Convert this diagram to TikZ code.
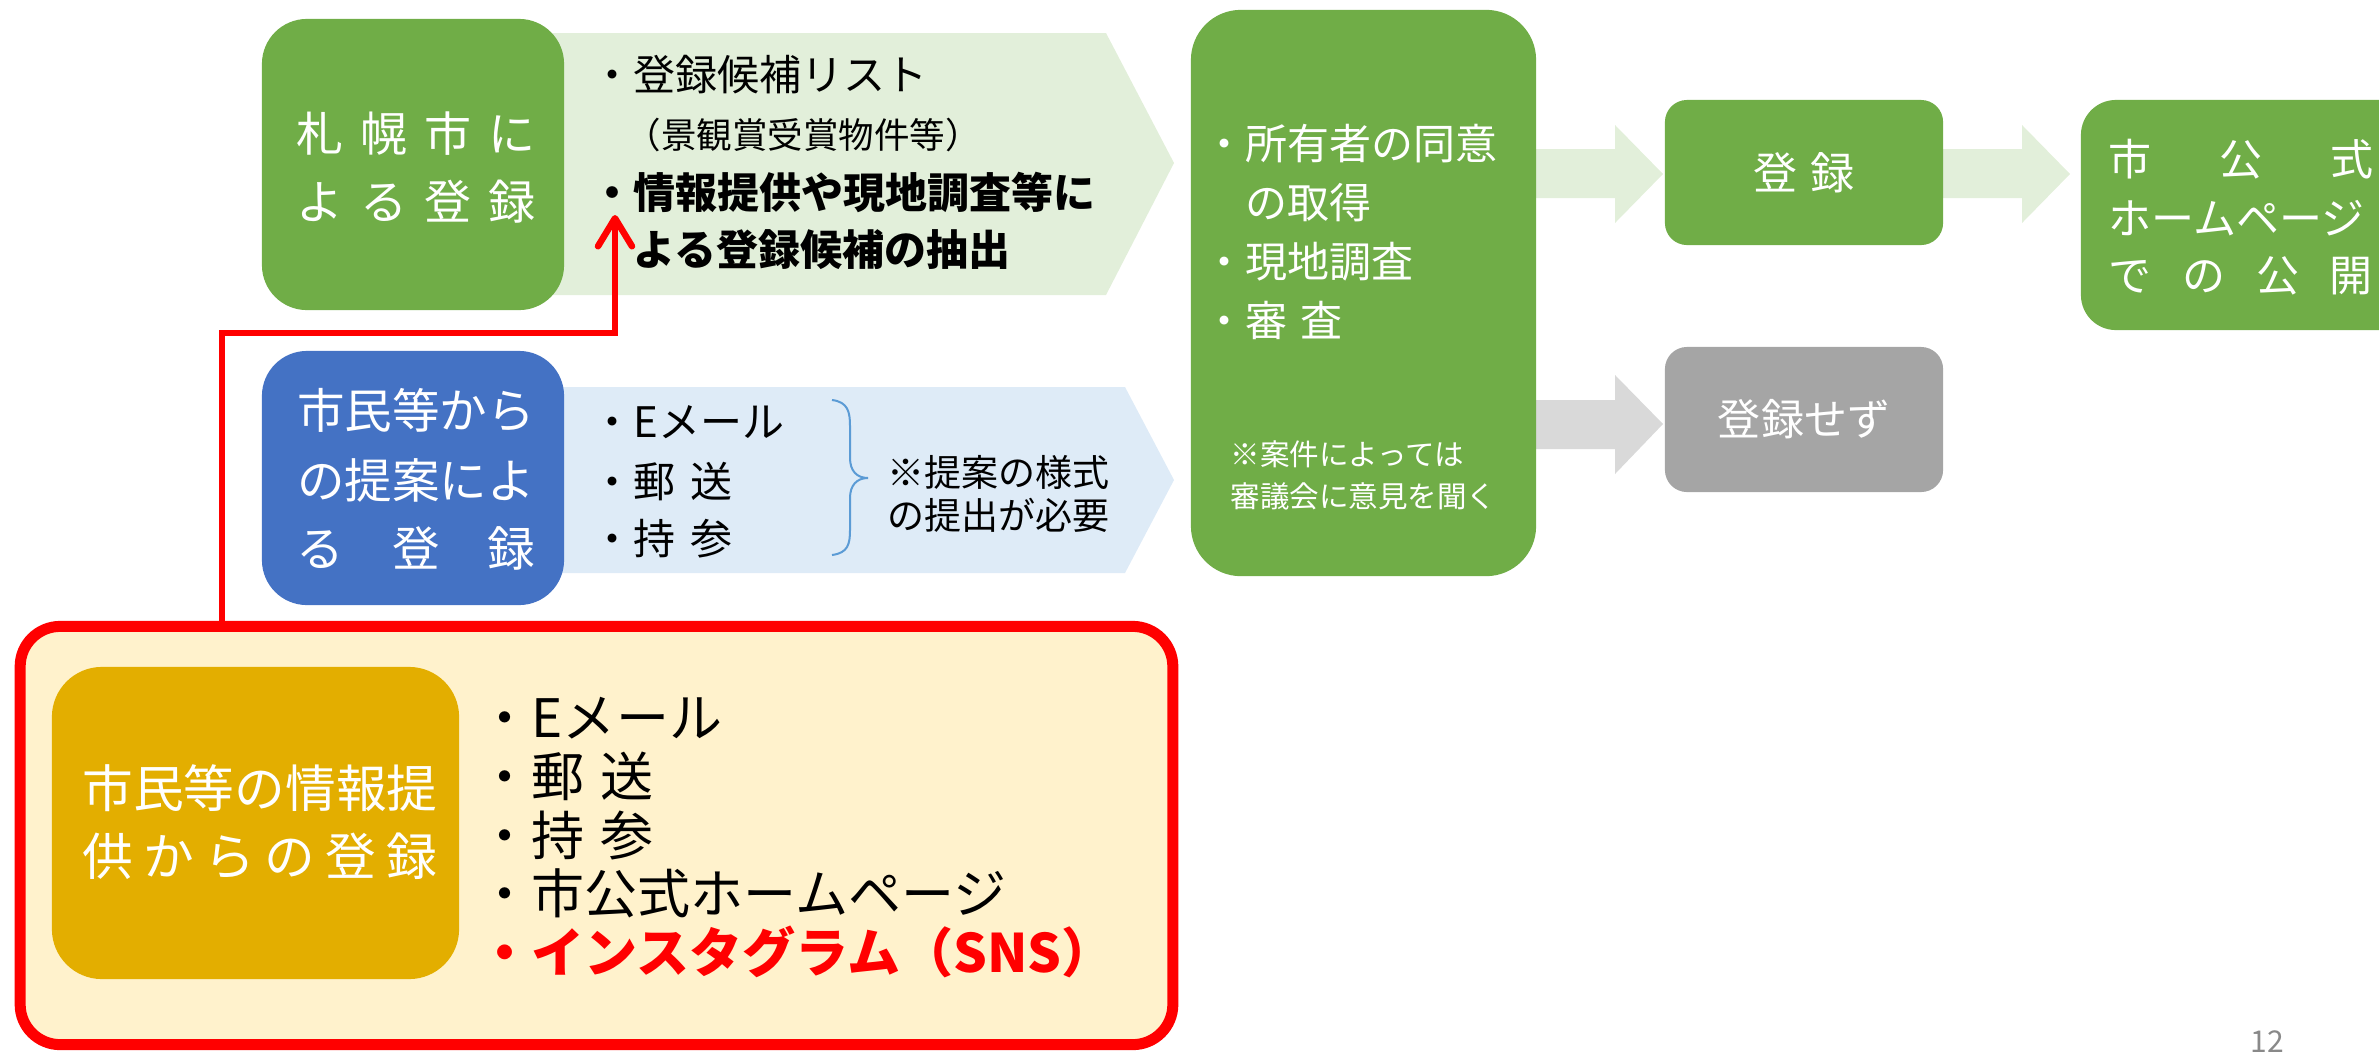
\documentclass[tikz,border=0pt]{standalone}
\usepackage{fontspec}
\setmainfont{Noto Sans CJK JP}
\usetikzlibrary{arrows.meta}
\definecolor{cgreen}{HTML}{70AD47}
\definecolor{clgreen}{HTML}{E2EFDA}
\definecolor{cblue}{HTML}{4472C4}
\definecolor{clblue}{HTML}{DEEBF7}
\definecolor{cgray}{HTML}{A5A5A5}
\definecolor{clgray}{HTML}{D9D9D9}
\definecolor{cgold}{HTML}{E3AE00}
\definecolor{cyellow}{HTML}{FFF2CC}
\definecolor{cred}{HTML}{FF0000}
\definecolor{cbrace}{HTML}{5B9BD5}
\definecolor{cpage}{HTML}{898989}
\newcommand\fs[1]{\fontsize{#1mm}{#1mm}\selectfont}
\newcommand\hgap[1]{\hspace{#1cm}}
\begin{document}
\begin{tikzpicture}[x=0.01cm,y=-0.01cm,
  box/.style={rounded corners=#1, inner sep=0pt, draw=none},
  wt/.style={inner sep=0pt, text=white},
  bt/.style={inner sep=0pt, text=black, anchor=west}]
\useasboundingbox (0,0) rectangle (2379,1054);

% block arrows
\fill[clgreen] (500,33) -- (1106,33) -- (1174,163) -- (1106,295) -- (500,295) -- cycle;
\fill[clblue] (500,387) -- (1125,387) -- (1174,480) -- (1125,573) -- (500,573) -- cycle;
\fill[clgreen] (1520,149) -- (1615,149) -- (1615,125) -- (1663,174) -- (1615,223) -- (1615,198) -- (1520,198) -- cycle;
\fill[clgreen] (1930,149) -- (2022,149) -- (2022,125) -- (2070,174) -- (2022,223) -- (2022,198) -- (1930,198) -- cycle;
\fill[clgray] (1520,400) -- (1615,400) -- (1615,375) -- (1663,424) -- (1615,474) -- (1615,449) -- (1520,449) -- cycle;

% boxes
\node[box=0.45cm, fill=cgreen, minimum width=3.02cm, minimum height=2.91cm] (sap) at (413,164.5) {};
\node[box=0.45cm, fill=cblue, minimum width=3.02cm, minimum height=2.54cm] (cit) at (413,478) {};
\node[box=0.5cm, fill=cgreen, minimum width=3.45cm, minimum height=5.66cm] (big) at (1363.5,293) {};
\node[box=0.22cm, fill=cgreen, minimum width=2.78cm, minimum height=1.45cm] (reg) at (1804,172.5) {};
\node[box=0.35cm, fill=cgreen, minimum width=3.39cm, minimum height=2.30cm] (pub) at (2250.5,215) {};
\node[box=0.22cm, fill=cgray, minimum width=2.78cm, minimum height=1.45cm] (noreg) at (1804,419.5) {};
\node[box=0.4cm, draw=cred, line width=0.11cm, fill=cyellow, minimum width=11.52cm, minimum height=4.18cm] (redbox) at (596.5,835.5) {};
\node[box=0.5cm, fill=cgold, minimum width=4.07cm, minimum height=3.12cm] (gold) at (255.5,823) {};

% red connector
\coordinate (bend) at (222,333);
\coordinate (tip) at (615,215);
\draw[cred, line width=0.065cm, -{Straight Barb[length=0.28cm,width=0.34cm,round]}] (redbox.north -| bend) -- (bend) -| (tip);

% brace
\draw[cbrace, line width=0.02cm] (832,400) .. controls (848,402) and (850,412) .. (850,426) -- (850,458) .. controls (850,471) and (857,478) .. (868,478) .. controls (857,478) and (850,485) .. (850,498) -- (850,530) .. controls (850,544) and (848,553) .. (832,555);

% Sapporo box text
\node[wt, font=\fs{4.7}] (sapa) at (416,134) {札\hgap{0.167}幌\hgap{0.167}市\hgap{0.167}に};
\node[wt, font=\fs{4.7}] (sapb) at (416,202) {よ\hgap{0.167}る\hgap{0.167}登\hgap{0.167}録};

% light green arrow text
\node[bt, font=\fs{4.2}] (la) at (591,75) {・登録候補リスト};
\node[bt, font=\fs{3.55}] (lb) at (625,135) {（景観賞受賞物件等）};
\node[bt, font=\fs{4.2}\bfseries] (lc) at (591,192) {・情報提供や現地調査等に};
\node[bt, font=\fs{4.2}\bfseries] (ld) at (633,250) {よる登録候補の抽出};

% citizen box text
\node[wt, font=\fs{4.75}] (cita) at (416,410) {市民等から};
\node[wt, font=\fs{4.75}] (citb) at (416,480) {の提案によ};
\node[wt, font=\fs{4.75}] (citc) at (416,548) {る\hgap{0.4775}登\hgap{0.4775}録};

% light blue arrow text
\node[bt, font=\fs{4.2}] (ba) at (591,422) {・Eメール};
\node[bt, font=\fs{4.2}] (bb) at (591,482) {・郵\hgap{0.15}送};
\node[bt, font=\fs{4.2}] (bc) at (591,539) {・持\hgap{0.15}参};
\node[bt, font=\fs{3.7}] (bd) at (887,472) {※提案の様式};
\node[bt, font=\fs{3.7}] (be) at (887,515) {の提出が必要};

% big green box text
\node[wt, anchor=west, font=\fs{4.2}] (ga) at (1203,144) {・所有者の同意};
\node[wt, anchor=west, font=\fs{4.2}] (gb) at (1245,203) {の取得};
\node[wt, anchor=west, font=\fs{4.2}] (gc) at (1203,262) {・現地調査};
\node[wt, anchor=west, font=\fs{4.2}] (gd) at (1203,320) {・審\hgap{0.13}査};
\node[wt, anchor=west, font=\fs{2.95}] (ge) at (1230,454) {※案件によっては};
\node[wt, anchor=west, font=\fs{2.95}] (gf) at (1230,496) {審議会に意見を聞く};

% register / not register
\node[wt, font=\fs{4.4}] (rega) at (reg.center) {登\hgap{0.13}録};
\node[wt, font=\fs{4.3}] (noregt) at (noreg.center) {登録せず};

% publication box
\node[wt, anchor=west, font=\fs{4.3}] (puba) at (2108,159) {市\hgap{0.68}公\hgap{0.68}式};
\node[wt, anchor=west, font=\fs{4.3}] (pubb) at (2108,218) {ホームページ};
\node[wt, anchor=west, font=\fs{4.3}] (pubc) at (2108,276) {で\hgap{0.307}の\hgap{0.307}公\hgap{0.307}開};

% gold box text
\node[wt, font=\fs{5.07}] (golda) at (260,788) {市民等の情報提};
\node[wt, font=\fs{5.07}] (goldb) at (260,856) {供\hgap{0.10}か\hgap{0.10}ら\hgap{0.10}の\hgap{0.10}登\hgap{0.10}録};

% red box list
\node[bt, font=\fs{5.3}] (ra) at (478,718) {・Eメール};
\node[bt, font=\fs{5.3}] (rb) at (478,776) {・郵\hgap{0.16}送};
\node[bt, font=\fs{5.3}] (rc) at (478,835) {・持\hgap{0.16}参};
\node[bt, font=\fs{5.3}] (rd) at (478,893) {・市公式ホームページ};
\node[bt, text=cred, font=\fs{5.3}\bfseries] (re) at (478,952) {・インスタグラム（SNS）};

% page number
\node[anchor=north west, inner sep=0pt, text=cpage, font=\fs{3.0}] (pg) at (2250,1030) {12};
\end{tikzpicture}
\end{document}
